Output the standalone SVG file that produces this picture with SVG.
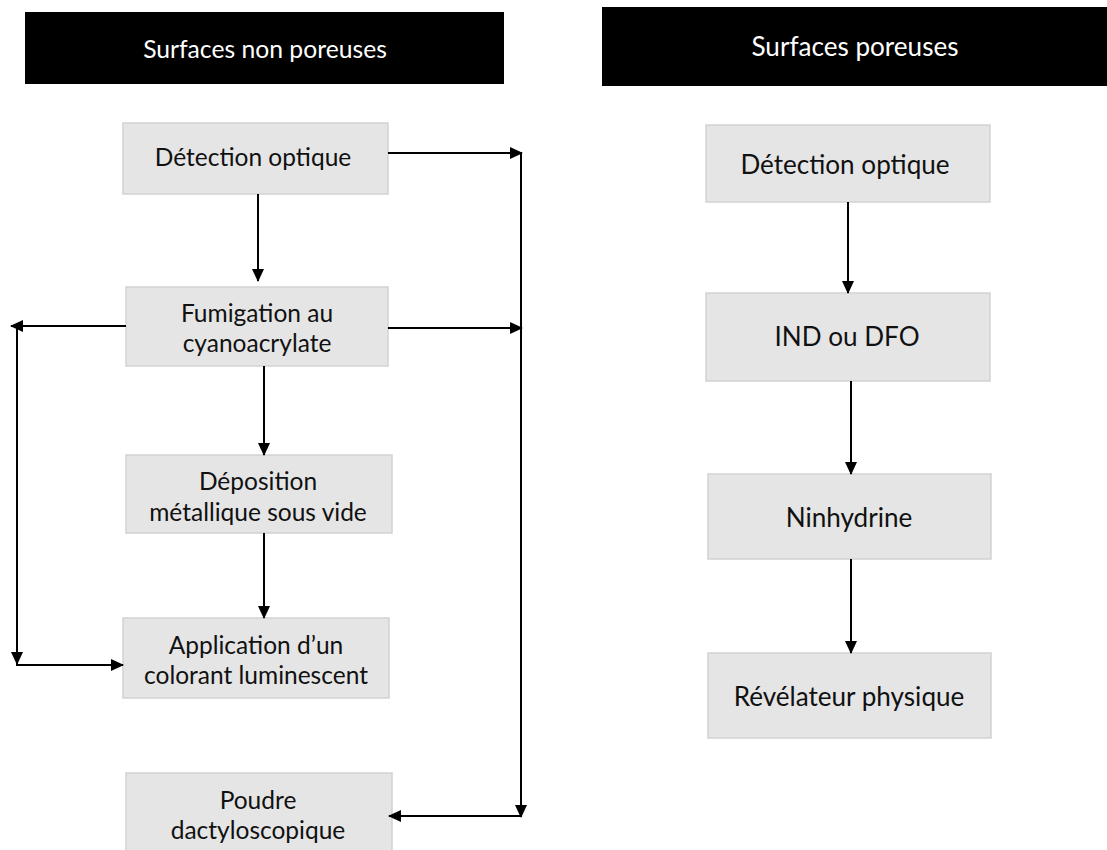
<svg xmlns="http://www.w3.org/2000/svg" width="1107" height="850" viewBox="0 0 1107 850">
<defs>
<style>
.hdr{fill:#000}
.hdrt{fill:#fff;font-family:Lato,"Open Sans",sans-serif;text-anchor:middle}
.box{fill:#e5e5e5;stroke:#d2d2d2;stroke-width:1.5}
.t{fill:#111;font-family:Lato,"Open Sans",sans-serif;text-anchor:middle}
.l{font-size:24.5px}
.h{font-size:24.7px}
.r{font-size:26.1px}
.c{stroke:#000;stroke-width:2;fill:none;marker-end:url(#ah)}
</style>
<marker id="ah" markerUnits="userSpaceOnUse" markerWidth="13" markerHeight="12" refX="12" refY="6" orient="auto">
<path d="M0,0 L13,6 L0,12 z" fill="#000"/>
</marker>
</defs>
<rect width="1107" height="850" fill="#fff"/>
<g id="header-left">
<rect class="hdr" x="25" y="12" width="479" height="72"/>
<text class="hdrt h" x="265" y="58">Surfaces non poreuses</text>
</g>
<g id="header-right">
<rect class="hdr" x="602" y="7" width="505" height="79"/>
<text class="hdrt r" x="855" y="56">Surfaces poreuses</text>
</g>
<g id="n-detection-l">
<rect class="box" x="123" y="123" width="265" height="71"/>
<text class="t l" x="253" y="166">Détection optique</text>
</g>
<g id="n-fumigation">
<rect class="box" x="126" y="287" width="262" height="79"/>
<text class="t l" x="257" y="322">Fumigation au</text>
<text class="t l" x="257" y="352">cyanoacrylate</text>
</g>
<g id="n-deposition">
<rect class="box" x="126" y="455" width="266" height="78"/>
<text class="t l" x="258" y="490">Déposition</text>
<text class="t l" x="258" y="521">métallique sous vide</text>
</g>
<g id="n-application">
<rect class="box" x="123" y="618" width="266" height="80"/>
<text class="t l" x="256" y="654">Application d’un</text>
<text class="t l" x="256" y="684">colorant luminescent</text>
</g>
<g id="n-poudre">
<rect class="box" x="126" y="773" width="266" height="85"/>
<text class="t l" x="258" y="809">Poudre</text>
<text class="t l" x="258" y="839">dactyloscopique</text>
</g>
<g id="n-detection-r">
<rect class="box" x="706" y="125" width="284" height="77"/>
<text class="t r" x="845" y="174">Détection optique</text>
</g>
<g id="n-ind">
<rect class="box" x="706" y="293" width="284" height="88"/>
<text class="t r" x="847" y="346">IND ou DFO</text>
</g>
<g id="n-ninhydrine">
<rect class="box" x="708" y="474" width="283" height="85"/>
<text class="t r" x="849" y="527">Ninhydrine</text>
</g>
<g id="n-revelateur">
<rect class="box" x="708" y="653" width="283" height="85"/>
<text class="t r" x="849" y="706">Révélateur physique</text>
</g>
<g id="connectors">
<line class="c" x1="258" y1="194" x2="258" y2="281"/>
<line class="c" x1="388" y1="153" x2="522" y2="153"/>
<line class="c" x1="388" y1="328" x2="522" y2="328"/>
<line class="c" x1="521" y1="153" x2="521" y2="817"/>
<line class="c" x1="521" y1="816" x2="389" y2="816"/>
<line class="c" x1="126" y1="326" x2="11" y2="326"/>
<line class="c" x1="17" y1="326" x2="17" y2="664"/>
<line class="c" x1="16" y1="665" x2="123" y2="665"/>
<line class="c" x1="264" y1="366" x2="264" y2="455"/>
<line class="c" x1="264" y1="533" x2="264" y2="618"/>
<line class="c" x1="848" y1="202" x2="848" y2="293"/>
<line class="c" x1="851" y1="381" x2="851" y2="474"/>
<line class="c" x1="851" y1="559" x2="851" y2="653"/>
</g>
</svg>
